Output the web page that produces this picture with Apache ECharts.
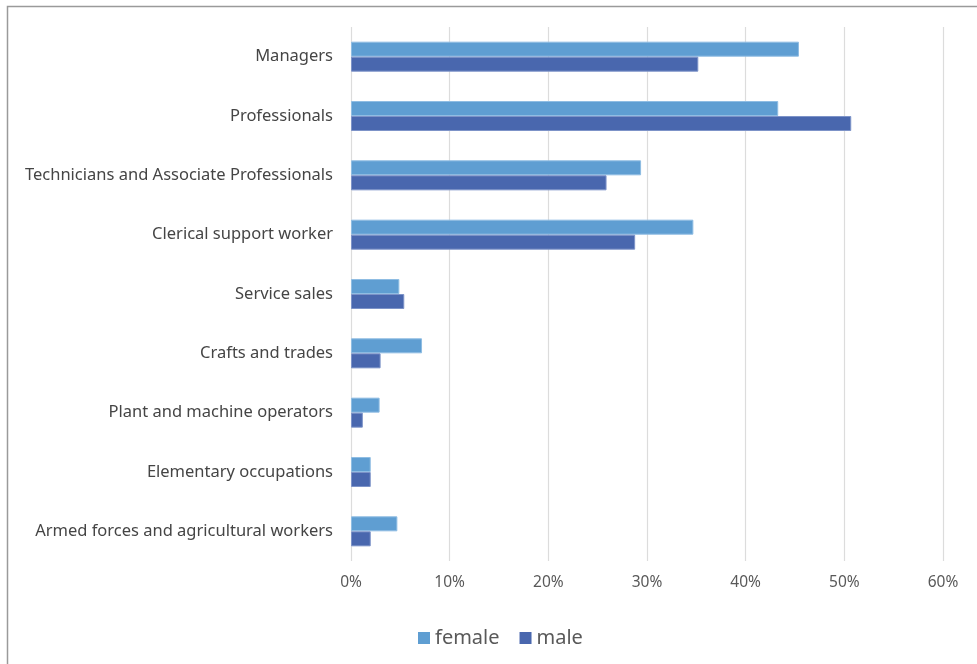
<!DOCTYPE html>
<html>
<head>
<meta charset="utf-8">
<script src="https://cdn.jsdelivr.net/npm/echarts@6/dist/echarts.min.js"></script>
<style>
  html, body { margin: 0; padding: 0; background: #fff; }
  #chart { width: 977px; height: 664px; }
</style>
</head>
<body>
<div id="chart"></div>
<script>
// occupations, top to bottom
var categories = [
  'Managers',
  'Professionals',
  'Technicians and Associate Professionals',
  'Clerical support worker',
  'Service sales',
  'Crafts and trades',
  'Plant and machine operators',
  'Elementary occupations',
  'Armed forces and agricultural workers'
];
var female = [45.4, 43.3, 29.4, 34.7, 4.9, 7.2, 2.9, 2.0, 4.7];
var male = [35.2, 50.7, 25.9, 28.8, 5.4, 3.0, 1.2, 2.0, 2.0];
var xTicks = [0, 10, 20, 30, 40, 50, 60];

var chart = echarts.init(document.getElementById('chart'));

var font = 'Noto Sans';

var option = {
  animation: false,
  textStyle: { fontFamily: font },
  graphic: [{
    type: 'rect',
    left: 5, top: 4,
    shape: { width: 1000, height: 700 },
    style: { fill: 'none', stroke: '#9a9a9a', lineWidth: 1.5 },
    silent: true
  }],
  grid: { left: 351, right: 34, top: 27, bottom: 103 },
  legend: {
    bottom: 11,
    left: 413,
    itemWidth: 12,
    itemHeight: 12,
    itemGap: 20,
    icon: 'rect',
    itemStyle: { borderWidth: 0 },
    textStyle: { fontSize: 20, color: '#595959', fontFamily: font },
    data: ['female', 'male']
  },
  xAxis: {
    type: 'value',
    min: xTicks[0],
    max: xTicks[xTicks.length - 1],
    interval: 10,
    axisLine: { show: false },
    axisTick: { show: false },
    axisLabel: {
      color: '#595959', fontSize: 15.5, margin: 14,
      formatter: function (v) { return v + '%'; }
    },
    splitLine: { lineStyle: { color: '#dcdcdc', width: 1.2 } }
  },
  yAxis: {
    type: 'category',
    inverse: true,
    data: categories,
    axisLine: { show: false },
    axisTick: { show: false },
    axisLabel: { color: '#454545', fontSize: 16.5, margin: 18 }
  },
  series: [
    {
      name: 'female', type: 'bar', data: female,
      barWidth: 15, barGap: '0%',
      itemStyle: { color: '#5f9ed2', borderColor: '#8fbde3', borderWidth: 1 }
    },
    {
      name: 'male', type: 'bar', data: male,
      barWidth: 15,
      itemStyle: { color: '#4967ae', borderColor: '#7d93c8', borderWidth: 1 }
    }
  ]
};

chart.setOption(option);
</script>
</body>
</html>
